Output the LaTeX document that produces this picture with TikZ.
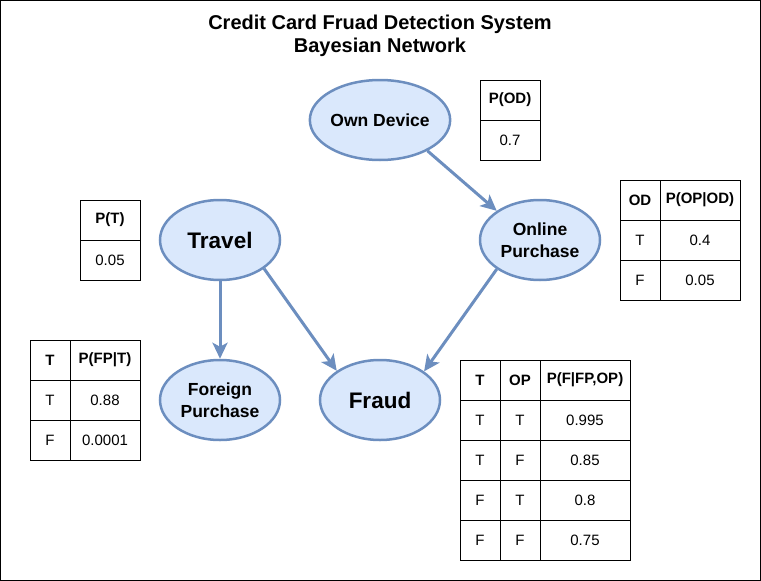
\documentclass[tikz,border=0pt]{standalone}
\usepackage{fontspec}
\setmainfont{Liberation Sans}
\usetikzlibrary{shapes.geometric,arrows.meta}
\definecolor{nodefill}{HTML}{DAE8FC}
\definecolor{nodeline}{HTML}{6C8EBF}
\tikzset{
  bnode/.style={ellipse, draw=nodeline, fill=nodefill, line width=2.5pt,
    minimum width=120pt, minimum height=80pt, inner sep=0pt, align=center,
    font=\bfseries\fontsize{17.5}{21.5}\selectfont},
  bignode/.style={bnode, font=\bfseries\fontsize{22.5}{26}\selectfont},
  cellbox/.style={draw=black, line width=1pt, inner sep=0pt,
    font=\fontsize{15}{18}\selectfont},
  hcell/.style={cellbox, font=\bfseries\fontsize{15}{18}\selectfont},
  link/.style={draw=nodeline, line width=3pt,
    -{Stealth[length=16pt,width=15pt,inset=4pt]}},
  titlenode/.style={align=center, font=\bfseries\fontsize{20}{23}\selectfont}
}
% #1 style, #2 name, #3 x1, #4 y1, #5 x2, #6 y2, #7 text
\newcommand\tcell[7]{\node[#1, minimum width={(#5-#3)*1pt}, minimum height={(#6-#4)*1pt}] (#2) at ({(#3+#5)/2},{(#4+#6)/2}) {#7};}
\begin{document}
\begin{tikzpicture}[x=1pt,y=-1pt]
\useasboundingbox (0,0) rectangle (761,581);
\draw[black, line width=1pt] (0.5,0.5) rectangle (760.5,580.5);
\node[titlenode] (title) at (380,36) {Credit Card Fruad Detection System\\Bayesian Network};

\node[bnode] (od) at (380,120) {Own Device};
\node[bnode] (op) at (540,240) {Online\\Purchase};
\node[bignode] (tr) at (220,240) {Travel};
\node[bnode] (fp) at (220,400) {Foreign\\Purchase};
\node[bignode] (fr) at (380,400) {Fraud};

\draw[link] (od.-33.7) -- (op.146.3);
\draw[link] (tr.south) -- (fp.north);
\draw[link] (tr.-33.7) -- (fr.146.3);
\draw[link] (op.-146.3) -- (fr.33.7);

% P(OD)
\tcell{hcell}{odh}{480}{80}{540}{120}{P(OD)}
\tcell{cellbox}{odv}{480}{120}{540}{160}{0.7}
% P(T)
\tcell{hcell}{th}{80}{200}{140}{240}{P(T)}
\tcell{cellbox}{tv}{80}{240}{140}{280}{0.05}
% P(OP|OD)
\tcell{hcell}{oph1}{620}{180}{660}{220}{OD}
\tcell{hcell}{oph2}{660}{180}{740}{220}{P(OP|OD)}
\tcell{cellbox}{opa1}{620}{220}{660}{260}{T}
\tcell{cellbox}{opa2}{660}{220}{740}{260}{0.4}
\tcell{cellbox}{opb1}{620}{260}{660}{300}{F}
\tcell{cellbox}{opb2}{660}{260}{740}{300}{0.05}
% P(FP|T)
\tcell{hcell}{fph1}{30}{340}{70}{380}{T}
\tcell{hcell}{fph2}{70}{340}{140}{380}{P(FP|T)}
\tcell{cellbox}{fpa1}{30}{380}{70}{420}{T}
\tcell{cellbox}{fpa2}{70}{380}{140}{420}{0.88}
\tcell{cellbox}{fpb1}{30}{420}{70}{460}{F}
\tcell{cellbox}{fpb2}{70}{420}{140}{460}{0.0001}
% P(F|FP,OP)
\tcell{hcell}{frh1}{460}{360}{500}{400}{T}
\tcell{hcell}{frh2}{500}{360}{540}{400}{OP}
\tcell{hcell}{frh3}{540}{360}{630}{400}{P(F|FP,OP)}
\tcell{cellbox}{fra1}{460}{400}{500}{440}{T}
\tcell{cellbox}{fra2}{500}{400}{540}{440}{T}
\tcell{cellbox}{fra3}{540}{400}{630}{440}{0.995}
\tcell{cellbox}{frb1}{460}{440}{500}{480}{T}
\tcell{cellbox}{frb2}{500}{440}{540}{480}{F}
\tcell{cellbox}{frb3}{540}{440}{630}{480}{0.85}
\tcell{cellbox}{frc1}{460}{480}{500}{520}{F}
\tcell{cellbox}{frc2}{500}{480}{540}{520}{T}
\tcell{cellbox}{frc3}{540}{480}{630}{520}{0.8}
\tcell{cellbox}{frd1}{460}{520}{500}{560}{F}
\tcell{cellbox}{frd2}{500}{520}{540}{560}{F}
\tcell{cellbox}{frd3}{540}{520}{630}{560}{0.75}
\end{tikzpicture}
\end{document}
